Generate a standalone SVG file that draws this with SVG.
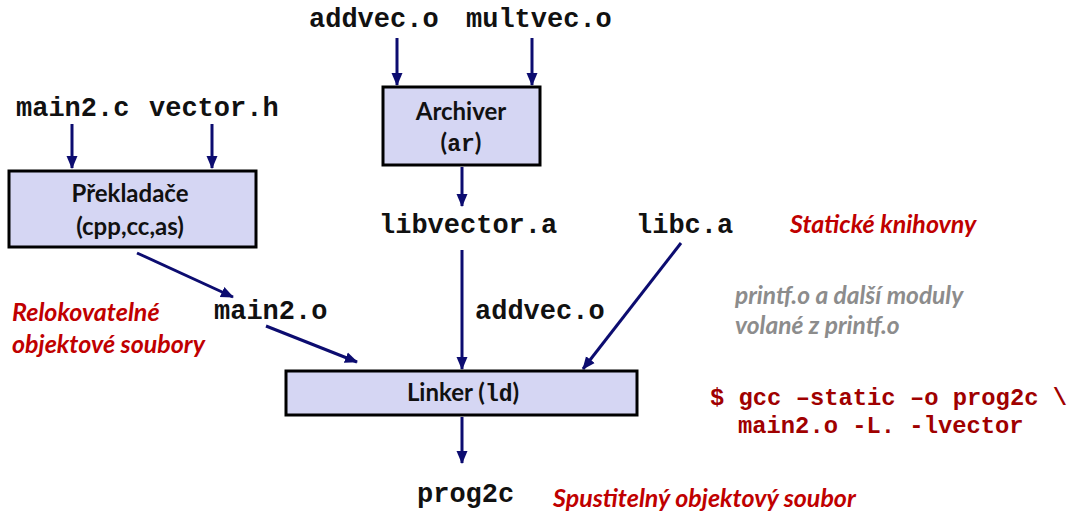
<svg xmlns="http://www.w3.org/2000/svg" width="1074" height="513" viewBox="0 0 1074 513">
<style>
.box{fill:#d5d6f3;stroke:#000;stroke-width:3}
.mono{font-family:"Liberation Mono","Courier New",monospace;font-weight:bold;font-size:27px;fill:#111}
.lbl{font-family:Lato,"Open Sans",sans-serif;font-weight:bold;font-size:24px;fill:#111;text-anchor:middle}
.lblm{font-family:"Liberation Mono",monospace;font-weight:bold;font-size:23px}
.red{font-family:Lato,"Open Sans",sans-serif;font-weight:bold;font-style:italic;font-size:25px;fill:#c00000}
.gray{font-family:Lato,"Open Sans",sans-serif;font-weight:bold;font-style:italic;font-size:24.5px;fill:#8c8c8c}
.cmd{font-family:"Liberation Mono","Courier New",monospace;font-weight:bold;font-size:23.8px;fill:#a00000}
.conn line{stroke:#0c0c70;stroke-width:3;fill:none;marker-end:url(#ah)}
</style>
<defs>
<marker id="ah" markerUnits="userSpaceOnUse" markerWidth="14" markerHeight="14" viewBox="0 0 14 14" refX="12" refY="7" orient="auto">
<path d="M0,1.5 L13,7 L0,12.5 Z" fill="#0c0c70"/>
</marker>
</defs>
<g id="connectors" class="conn">
<line x1="72" y1="124" x2="72" y2="168"/>
<line x1="212" y1="124" x2="212" y2="168"/>
<line x1="397" y1="38" x2="397" y2="85"/>
<line x1="532" y1="38" x2="532" y2="85"/>
<line x1="462" y1="167" x2="462" y2="206"/>
<line x1="137" y1="253" x2="233" y2="297"/>
<line x1="266" y1="326" x2="357" y2="362"/>
<line x1="462" y1="250" x2="462" y2="369"/>
<line x1="681" y1="243" x2="583" y2="369"/>
<line x1="462" y1="417" x2="462" y2="463"/>
</g>
<g id="main2c"><text class="mono" x="16" y="116">main2.c</text></g>
<g id="vectorh"><text class="mono" x="149" y="116">vector.h</text></g>
<g id="addveco_in"><text class="mono" x="309" y="27">addvec.o</text></g>
<g id="multveco"><text class="mono" x="466" y="27">multvec.o</text></g>
<g id="preklad">
<rect class="box" x="9" y="171" width="247" height="76"/>
<text class="lbl" x="130" y="202">Překladače</text>
<text class="lbl" x="130" y="235">(cpp,cc,as)</text>
</g>
<g id="archiver">
<rect class="box" x="383" y="87" width="157" height="78"/>
<text class="lbl" x="461" y="120">Archiver</text>
<text class="lbl" x="461" y="151"><tspan>(</tspan><tspan class="lblm">ar</tspan><tspan>)</tspan></text>
</g>
<g id="libvector"><text class="mono" x="379" y="233">libvector.a</text></g>
<g id="libc"><text class="mono" x="636" y="233">libc.a</text></g>
<g id="main2o"><text class="mono" x="214" y="319">main2.o</text></g>
<g id="addveco"><text class="mono" x="475" y="319">addvec.o</text></g>
<g id="linker">
<rect class="box" x="286" y="371" width="351" height="44"/>
<text class="lbl" x="463" y="401"><tspan>Linker (</tspan><tspan class="lblm">ld</tspan><tspan>)</tspan></text>
</g>
<g id="prog2c"><text class="mono" x="417" y="502">prog2c</text></g>
<g id="notes">
<text class="red" x="12" y="321">Relokovatelné</text>
<text class="red" x="12" y="353">objektové soubory</text>
<text class="red" x="790" y="233">Statické knihovny</text>
<text class="gray" x="735" y="304">printf.o a další moduly</text>
<text class="gray" x="735" y="334">volané z printf.o</text>
<text class="cmd" x="710" y="405">$ gcc –static –o prog2c \</text>
<text class="cmd" x="738" y="433">main2.o -L. -lvector</text>
<text class="red" x="553" y="507">Spustitelný objektový soubor</text>
</g>
</svg>
